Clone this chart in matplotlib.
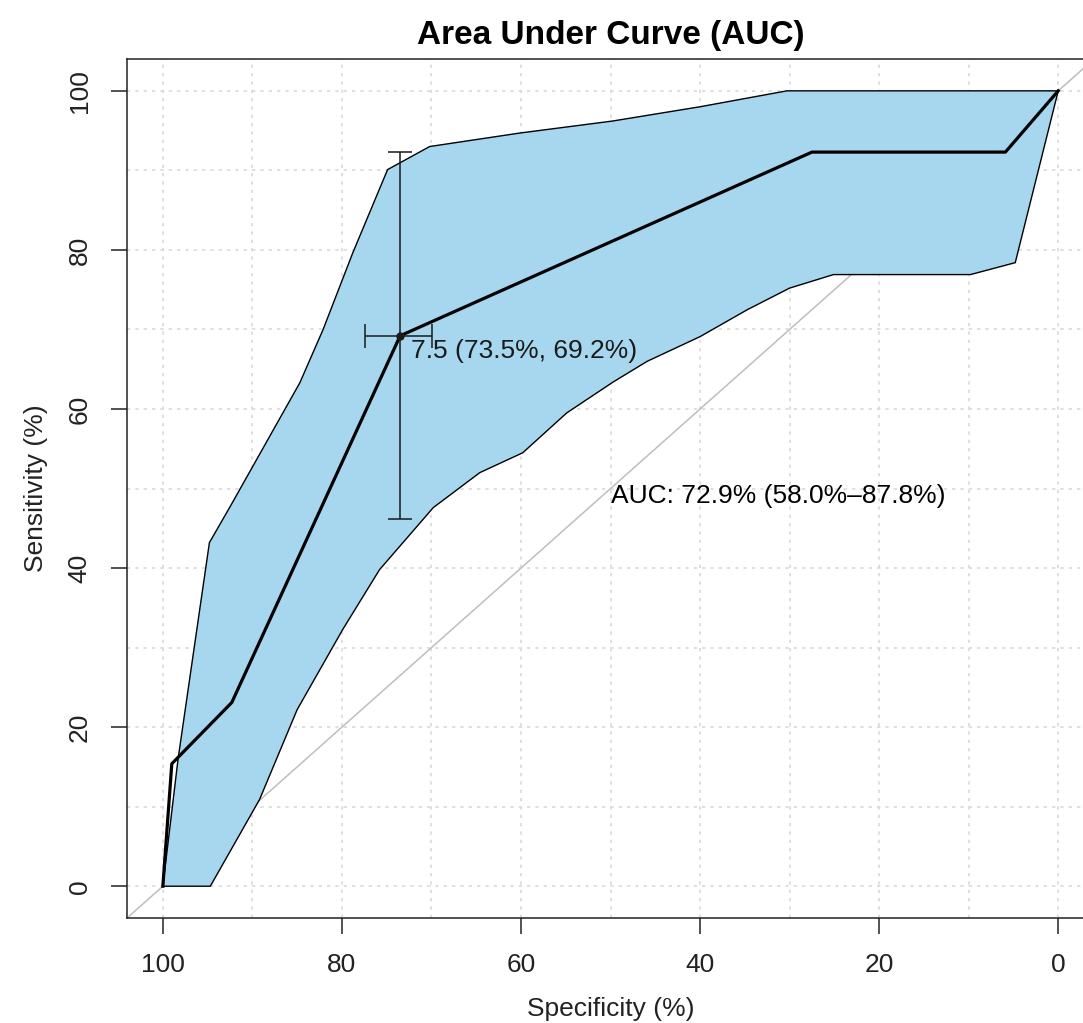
"""
ROC curve with confidence band (pROC style), rebuilt in matplotlib.
"""

import matplotlib
matplotlib.use("Agg")
import matplotlib.pyplot as plt
from matplotlib.ticker import MultipleLocator

plt.rcParams["font.family"] = ["Liberation Sans", "DejaVu Sans"]

# ROC curve (specificity %, sensitivity %)
ROC_SPEC = [100, 99.0, 92.3, 73.5, 27.5, 5.9, 0]
ROC_SENS = [0, 15.4, 23.1, 69.2, 92.3, 92.3, 100]

# Confidence band, upper edge
CI_UP_SPEC = [100, 98.3, 94.8, 92.5, 84.7, 82.1, 78.8, 74.9, 70.2, 60.1, 49.8, 40.0, 30.3, 0]
CI_UP_SENS = [0, 16.0, 43.2, 47.7, 63.3, 70.0, 79.6, 90.1, 93.0, 94.7, 96.2, 98.0, 100, 100]

# Confidence band, lower edge
CI_LO_SPEC = [100, 94.7, 89.2, 85.0, 79.9, 75.8, 69.8, 64.6, 59.8, 54.9, 49.7, 45.9,
              40.0, 34.7, 30.0, 25.1, 9.8, 4.8, 0]
CI_LO_SENS = [0, 0, 10.9, 22.2, 32.3, 39.8, 47.6, 52.0, 54.5, 59.5, 63.4, 66.0,
              69.1, 72.5, 75.2, 76.9, 76.9, 78.4, 100]

# Best threshold and its CI
THRES_LABEL = "7.5"
THRES_SPEC = 73.5
THRES_SENS = 69.2
THRES_SPEC_CI = (69.6, 77.1)
THRES_SENS_CI = (46.2, 92.3)

AUC_TEXT = "AUC: 72.9% (58.0%\u201387.8%)"
TICKS = [0, 20, 40, 60, 80, 100]


def main():
    fig = plt.figure(figsize=(10.83, 10.23), dpi=100)
    ax = fig.add_axes([0.1173, 0.1026, 0.8929, 0.8397])

    ax.set_xlim(104, -4)
    ax.set_ylim(-4, 104)

    # grid every 10
    ax.xaxis.set_minor_locator(MultipleLocator(10))
    ax.yaxis.set_minor_locator(MultipleLocator(10))
    ax.grid(which="both", color="#d9d9d9", linestyle=(0, (2, 3)), linewidth=1.2, zorder=0)
    ax.set_axisbelow(True)

    # chance line
    ax.axline((100, 0), (0, 100), color="#bebebe", linewidth=1.1, zorder=1)

    # confidence band
    band_x = CI_UP_SPEC + CI_LO_SPEC[::-1]
    band_y = CI_UP_SENS + CI_LO_SENS[::-1]
    ax.fill(band_x, band_y, facecolor="#a6d7ee", edgecolor="black", linewidth=1.0, zorder=2)

    # ROC curve
    ax.plot(ROC_SPEC, ROC_SENS, color="black", linewidth=2.3, zorder=3)

    # threshold with CI
    ax.errorbar(
        [THRES_SPEC], [THRES_SENS],
        xerr=[[THRES_SPEC_CI[1] - THRES_SPEC], [THRES_SPEC - THRES_SPEC_CI[0]]],
        yerr=[[THRES_SENS - THRES_SENS_CI[0]], [THRES_SENS_CI[1] - THRES_SENS]],
        fmt="o", color="#1a1a1a", markersize=5, elinewidth=1.1, capsize=8.5,
        capthick=1.1, zorder=4,
    )
    ax.annotate(
        f"{THRES_LABEL} ({THRES_SPEC}%, {THRES_SENS}%)",
        xy=(THRES_SPEC, THRES_SENS), xytext=(8, -2), textcoords="offset points",
        ha="left", va="top", fontsize=19, color="#1a1a1a", zorder=5,
    )

    ax.text(50, 50.6, AUC_TEXT, ha="left", va="top", fontsize=19, color="black", zorder=5)

    # axes
    ax.set_xticks(TICKS)
    ax.set_yticks(TICKS)
    ax.set_xticklabels([str(t) for t in TICKS])
    ax.set_yticklabels([str(t) for t in TICKS], rotation=90, va="center")
    ax.tick_params(which="major", length=11.5, width=1.1, pad=14, labelsize=19, colors="#222222")
    ax.tick_params(which="minor", length=0)
    for s in ax.spines.values():
        s.set_linewidth(1.1)
        s.set_color("#222222")

    ax.set_xlabel("Specificity (%)", fontsize=19, color="#222222", labelpad=14)
    ax.set_ylabel("Sensitivity (%)", fontsize=19, color="#222222", labelpad=14)
    ax.set_title("Area Under Curve (AUC)", fontsize=24, fontweight="bold", pad=11)

    fig.savefig("out.png", dpi=100)
    plt.close(fig)


if __name__ == "__main__":
    main()
